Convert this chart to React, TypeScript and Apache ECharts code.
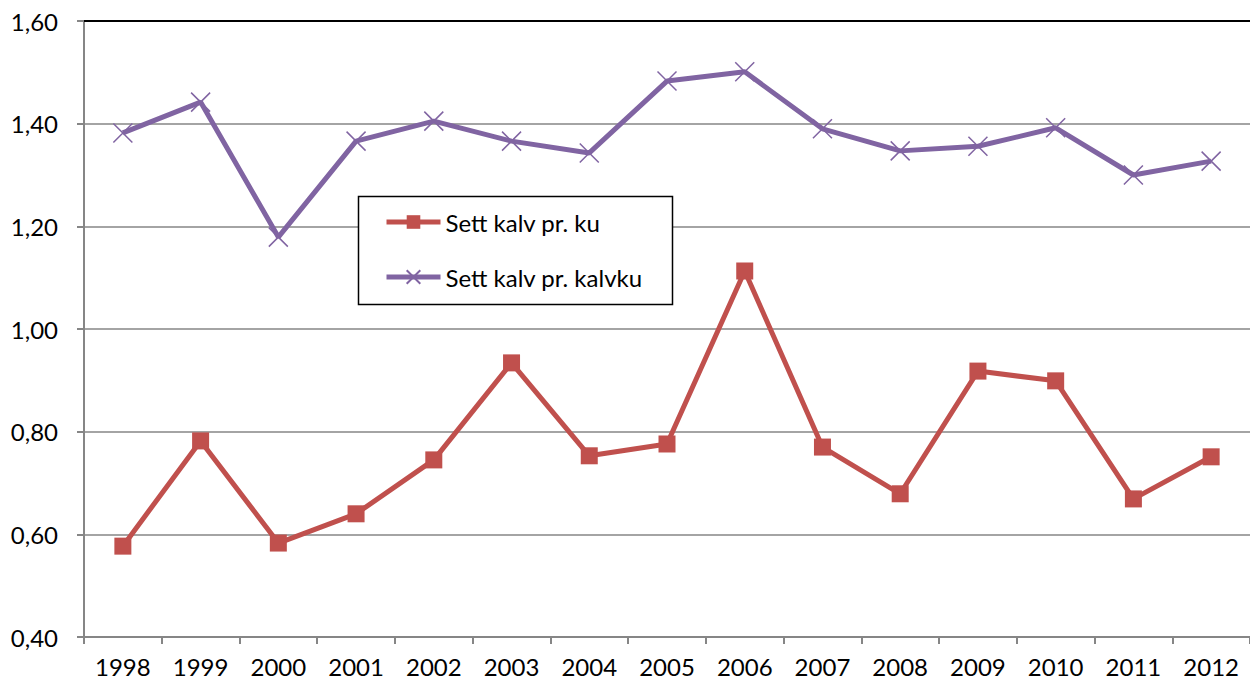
import React, { useEffect, useRef } from "react";
import * as echarts from "echarts";

const years = ["1998","1999","2000","2001","2002","2003","2004","2005","2006","2007","2008","2009","2010","2011","2012"];
const kalvPrKu = [0.577, 0.782, 0.583, 0.640, 0.745, 0.934, 0.753, 0.776, 1.113, 0.770, 0.679, 0.918, 0.899, 0.669, 0.751];
const kalvPrKalvku = [1.382, 1.442, 1.179, 1.366, 1.405, 1.366, 1.343, 1.483, 1.501, 1.390, 1.347, 1.356, 1.392, 1.300, 1.327];
const seriesNames = ["Sett kalv pr. ku", "Sett kalv pr. kalvku"];
const colors = ["#C0504D", "#8064A2"];

const FONT = "Lato";

export default function App() {
  const ref = useRef<HTMLDivElement>(null);
  useEffect(() => {
    document.body.style.margin = "0";
    const chart = echarts.init(ref.current!, null, { renderer: "svg" });
    chart.setOption({
      animation: false,
      textStyle: { fontFamily: FONT },
      grid: { left: 84, top: 21, width: 1167, height: 616 },
      xAxis: [
        {
          type: "category",
          data: years,
          boundaryGap: true,
          axisLine: { lineStyle: { color: "#868686", width: 2 } },
          axisTick: { show: true, length: 7, lineStyle: { color: "#868686", width: 2 } },
          axisLabel: { color: "#000", fontSize: 24, fontFamily: FONT, margin: 17 },
        },
        {
          type: "category",
          data: years,
          position: "top",
          axisLine: { lineStyle: { color: "#000", width: 2 } },
          axisTick: { show: false },
          axisLabel: { show: false },
        },
      ],
      yAxis: {
        type: "value",
        min: 0.4,
        max: 1.6,
        interval: 0.2,
        axisLine: { show: true, lineStyle: { color: "#868686", width: 2 } },
        axisTick: { show: true, length: 7, lineStyle: { color: "#868686", width: 2 } },
        splitLine: { lineStyle: { color: "#868686", width: 1.5 } },
        axisLabel: {
          color: "#000",
          fontSize: 24,
          fontFamily: FONT,
          margin: 26,
          formatter: (v: number) => v.toFixed(2).replace(".", ","),
        },
      },
      legend: {
        orient: "vertical",
        left: 384,
        top: 210,
        padding: 0,
        itemWidth: 54,
        itemHeight: 17,
        itemGap: 31,
        z: 10,
        textStyle: { fontSize: 24, fontFamily: FONT, color: "#000" },
        data: [
          { name: seriesNames[0], lineStyle: { width: 5 } },
          { name: seriesNames[1], lineStyle: { width: 5 } },
        ],
      },
      graphic: [
        {
          type: "rect",
          z: 5,
          shape: { x: 358.5, y: 196.5, width: 314, height: 108 },
          style: { fill: "#fff", stroke: "#000", lineWidth: 1.5 },
        },
      ],
      series: [
        {
          name: seriesNames[0],
          type: "line",
          data: kalvPrKu,
          symbol: "rect",
          symbolSize: 17,
          lineStyle: { color: colors[0], width: 5 },
          itemStyle: { color: colors[0] },
          z: 3,
        },
        {
          name: seriesNames[1],
          type: "line",
          data: kalvPrKalvku,
          symbol: "path://M0,0L10,10M10,0L0,10",
          symbolSize: 19,
          lineStyle: { color: colors[1], width: 5 },
          itemStyle: { color: colors[1], borderColor: colors[1], borderWidth: 1.5 },
          z: 3,
        },
      ],
    });
    return () => chart.dispose();
  }, []);
  return <div ref={ref} style={{ width: 1250, height: 684 }} />;
}
